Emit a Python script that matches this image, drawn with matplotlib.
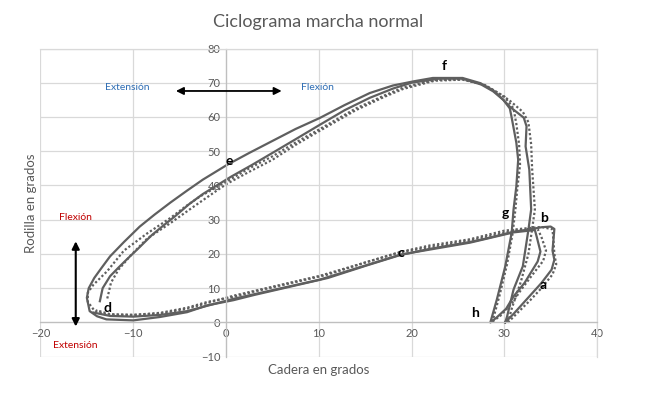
import matplotlib
matplotlib.use('Agg')
import matplotlib.pyplot as plt

plt.rcParams['font.family'] = ['Lato', 'DejaVu Sans']

# Cadera (hip) vs Rodilla (knee) angles
hip_s1 = [30.1, 31.0, 32.0, 33.0, 34.0, 35.1, 35.4, 35.2, 35.3, 35.4, 35.0, 34.0, 33.0, 31.0,
          28.0, 26.3, 22.0, 18.8, 15.0, 11.0, 7.0, 3.0, 0.8, -2.0, -4.2, -7.1, -10.0, -12.9,
          -13.9, -14.7, -15.0, -14.8, -14.2, -13.4, -12.5, -11.0, -9.3, -7.7, -6.0, -4.2,
          -2.5, 0.1, 2.5, 5.0, 7.5, 10.1, 12.8, 15.5, 18.0, 20.2, 22.3, 25.5, 27.4, 28.8,
          29.9, 30.6, 32.1, 32.4, 32.3, 32.7, 32.9, 32.6, 32.0, 31.0, 30.3, 30.1]
knee_s1 = [0.0, 2.5, 5.5, 8.5, 11.5, 15.4, 18.3, 21.0, 24.0, 27.3, 28.0, 27.8, 27.3, 26.5,
           24.5, 23.5, 21.5, 19.7, 16.5, 13.0, 10.5, 8.0, 6.5, 5.0, 3.0, 1.6, 0.6, 0.9,
           1.8, 3.3, 7.2, 10.0, 13.0, 16.0, 19.3, 23.5, 28.0, 31.5, 35.0, 38.5,
           41.7, 46.0, 49.5, 53.0, 56.5, 59.7, 63.5, 67.0, 69.2, 70.4, 71.4, 71.4, 69.9, 67.8,
           65.0, 63.0, 59.8, 57.3, 51.4, 44.6, 33.0, 27.0, 16.4, 9.6, 1.7, 0.0]

hip_s2 = [-13.6, -13.3, -12.5, -11.6, -10.7, -9.5, -8.0, -6.8, -5.5, -4.0, -2.5, 0.5, 2.8,
          5.0, 7.5, 10.1, 12.8, 15.5, 18.0, 20.0, 23.0, 25.5, 27.5, 28.8, 29.9, 30.6, 30.8,
          31.3, 31.5, 31.3, 31.0, 30.8, 30.1, 29.2, 28.5, 29.2, 30.2, 31.0, 32.2, 33.6, 33.9,
          33.5, 33.3, 31.0, 26.3, 18.8, 10.1, 0.8, -4.2, -7.1, -10.0, -12.5, -14.3]
knee_s2 = [6.2, 10.0, 13.5, 16.0, 18.4, 21.5, 25.5, 28.2, 31.0, 34.5, 37.5, 42.5, 46.0,
           49.5, 53.5, 57.7, 62.0, 65.6, 68.3, 70.0, 71.2, 71.2, 69.5, 67.5, 65.0, 62.5, 59.8,
           52.5, 47.5, 39.7, 33.0, 26.2, 16.3, 6.7, 0.0, 1.5, 4.0, 7.6, 11.6, 17.8, 20.7,
           25.0, 27.0, 26.3, 23.3, 19.8, 12.5, 6.9, 3.3, 2.2, 1.7, 1.9, 2.9]

hip_d1 = [30.4, 31.5, 32.8, 34.0, 35.2, 35.6, 35.4, 35.3, 35.2, 34.0, 32.0, 30.0, 26.3, 22.0,
          18.8, 15.0, 11.0, 7.0, 3.0, 0.8, -2.0, -4.2, -7.1, -10.0, -12.9, -14.2, -14.9, -14.9,
          -14.3, -12.8, -11.0, -8.5, -6.0, -4.4, -2.8, 0.1, 2.5, 5.0, 7.4, 9.8, 14.0, 17.0,
          19.1, 22.5, 25.5, 28.0, 30.5, 32.0, 32.6, 32.9, 33.0, 33.3, 33.0, 32.6, 31.8, 30.8,
          30.4]
knee_d1 = [0.0, 3.0, 6.5, 10.0, 14.0, 17.0, 20.0, 24.0, 27.2, 27.9, 27.4, 26.8, 24.3, 22.5,
           20.6, 17.5, 14.0, 11.5, 9.0, 7.5, 6.0, 4.3, 2.8, 2.2, 2.3, 3.5, 6.0, 8.7,
           11.0, 15.0, 21.0, 26.0, 30.5, 33.8, 36.8, 41.2, 45.0, 48.5, 52.4, 56.0, 62.5, 66.2,
           68.6, 70.8, 71.0, 69.2, 65.0, 61.5, 58.5, 52.0, 45.0, 33.0, 27.2, 20.0, 12.0, 4.0,
           0.0]

hip_d2 = [-12.8, -12.4, -11.6, -10.3, -8.5, -6.0, -3.5, -1.0, 0.1, 2.5, 5.0, 7.4, 9.8, 14.0,
          17.0, 19.1, 22.5, 25.5, 27.8, 30.0, 31.0, 31.3, 31.6, 31.7, 31.4, 31.2, 30.9, 30.3,
          29.5, 28.8, 28.6, 29.6, 30.8, 31.8, 33.2, 34.2, 34.5, 34.0, 33.6, 31.0, 26.3, 18.8,
          10.1, 0.8, -4.2, -7.1, -10.0, -12.5, -14.0]
knee_d2 = [7.0, 11.6, 15.4, 19.5, 24.5, 29.0, 33.8, 38.5, 40.5, 44.0, 47.5, 51.7, 55.5, 62.0,
           65.8, 68.2, 70.6, 70.9, 69.5, 66.0, 62.5, 58.0, 52.0, 46.0, 39.0, 33.0, 26.0, 17.0,
           8.0, 1.0, 0.0, 2.0, 5.5, 9.5, 14.5, 18.0, 21.0, 25.0, 27.3, 26.8, 24.0, 20.5,
           13.6, 7.8, 4.0, 2.6, 2.2, 2.4, 3.6]

# phase letters
phase_labels = ['a', 'b', 'c', 'd', 'e', 'f', 'g', 'h']
phase_x = [34.2, 34.3, 18.8, -12.8, 0.4, 23.5, 30.1, 26.8]
phase_y = [11.0, 30.6, 20.4, 4.3, 47.2, 75.0, 32.0, 2.9]

fig = plt.figure(figsize=(6.5, 3.98), dpi=100)
ax = fig.add_axes([0.0623, 0.1038, 0.8562, 0.7743])

line_col = '#5f5f5f'
ax.plot(hip_s1, knee_s1, color=line_col, lw=1.6)
ax.plot(hip_s2, knee_s2, color=line_col, lw=1.6)
ax.plot(hip_d1, knee_d1, color=line_col, lw=1.6, linestyle=(0, (1, 1)))
ax.plot(hip_d2, knee_d2, color=line_col, lw=1.6, linestyle=(0, (1, 1)))

ax.set_xlim(-20, 40)
ax.set_ylim(-10, 80)
ax.set_xticks(range(-20, 41, 10))
ax.set_yticks(range(-10, 81, 10))
ax.grid(True, color='#d9d9d9', lw=0.9)
ax.set_axisbelow(True)

# axes cross at the origin, like the spreadsheet chart
ax.spines['left'].set_position(('data', 0))
ax.spines['bottom'].set_position(('data', 0))
for s in ['left', 'bottom']:
    ax.spines[s].set_color('#bfbfbf')
    ax.spines[s].set_linewidth(0.9)
for s in ['top', 'right']:
    ax.spines[s].set_color('#d9d9d9')
    ax.spines[s].set_linewidth(0.9)
ax.tick_params(length=0, labelsize=8, labelcolor='#595959', pad=4)

fig.text(0.49, 0.945, 'Ciclograma marcha normal', ha='center', va='center',
         fontsize=13, color='#595959')
fig.text(0.49, 0.07, 'Cadera en grados', ha='center', va='center',
         fontsize=9.5, color='#595959')
fig.text(0.047, 0.49, 'Rodilla en grados', ha='center', va='center',
         fontsize=9.5, color='#595959', rotation=90)

# phase letters
for lab, px, py in zip(phase_labels, phase_x, phase_y):
    ax.text(px, py, lab, ha='center', va='center', fontsize=10,
            fontweight='bold', color='black')

# direction arrows and notes
blue = '#2e6db4'
red = '#c00000'
ax.annotate('', xy=(-5.7, 67.6), xytext=(6.3, 67.6),
            arrowprops=dict(arrowstyle='<|-|>', color='black', lw=1.3, mutation_scale=11))
ax.text(-10.6, 68.6, 'Extensión', color=blue, fontsize=7.5, ha='center', va='center')
ax.text(9.9, 68.6, 'Flexión', color=blue, fontsize=7.5, ha='center', va='center')

ax.annotate('', xy=(-16.2, 24.5), xytext=(-16.2, -2.0),
            arrowprops=dict(arrowstyle='<|-|>', color='black', lw=1.5, mutation_scale=11))
ax.text(-16.2, 30.6, 'Flexión', color=red, fontsize=7.5, ha='center', va='center')
ax.text(-16.3, -6.6, 'Extensión', color=red, fontsize=7.5, ha='center', va='center')

plt.savefig('out.png', dpi=100)
